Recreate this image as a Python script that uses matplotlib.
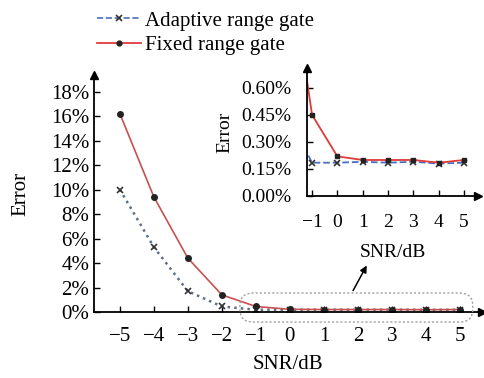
import numpy as np
import matplotlib
matplotlib.use('Agg')
import matplotlib.pyplot as plt
from matplotlib.patches import FancyBboxPatch
from matplotlib.ticker import FuncFormatter
from matplotlib.transforms import IdentityTransform

plt.rcParams['font.family'] = ['Liberation Serif', 'DejaVu Serif']
plt.rcParams['mathtext.fontset'] = 'stix'

# Data (error in %)
snr = [-5, -4, -3, -2, -1, 0, 1, 2, 3, 4, 5]
adaptive = [10.0, 5.3, 1.7, 0.45, 0.185, 0.185, 0.19, 0.185, 0.19, 0.18, 0.185]
fixed = [16.2, 9.4, 4.4, 1.4, 0.45, 0.22, 0.20, 0.20, 0.20, 0.185, 0.20]

main_yticks = [0, 2, 4, 6, 8, 10, 12, 14, 16, 18]
inset_yticks = [0.0, 0.15, 0.30, 0.45, 0.60]
inset_xticks = [-1, 0, 1, 2, 3, 4, 5]

fig = plt.figure(figsize=(4.85, 3.78), dpi=100)
ax = fig.add_axes([0.1938, 0.1746, 0.80, 0.627])

def style_axes(a, fs):
    for s in ['top', 'right']:
        a.spines[s].set_visible(False)
    a.spines['left'].set_linewidth(1.3)
    a.spines['bottom'].set_linewidth(1.3)
    a.tick_params(direction='in', length=4, width=1.0, labelsize=fs)
    a.plot(1, 0, '>k', transform=a.transAxes, clip_on=False, ms=6)
    a.plot(0, 1, '^k', transform=a.transAxes, clip_on=False, ms=6)

ax.plot(snr, adaptive, ':', color='#5d6f88', lw=1.8, marker='x', ms=4,
        mec='#333333', mew=1.2)
ax.plot(snr, fixed, '-', color='#c8504e', lw=1.2, marker='o', ms=4,
        mfc='#222222', mec='#222222')
ax.set_xlim(-5.76, 5.65)
ax.set_ylim(0, 19.35)
ax.set_xticks(snr)
ax.set_yticks(main_yticks)
ax.yaxis.set_major_formatter(FuncFormatter(lambda v, p: '%d%%' % v))
style_axes(ax, 15)
ax.tick_params(axis='x', pad=11)
ax.set_xlabel('SNR/dB', fontsize=15, labelpad=6)
ax.set_ylabel('Error', fontsize=15, labelpad=15)

# legend entries (blue dashed / red solid)
h1, = ax.plot([], [], '--', color='#4a6fc0', lw=1.2, marker='x', ms=4,
              mec='#333333', mew=1.2)
h2, = ax.plot([], [], '-', color='#e03a3a', lw=1.3, marker='o', ms=3.5,
              mfc='#222222', mec='#222222')
fig.legend([h1, h2], ['Adaptive range gate', 'Fixed range gate'],
           loc='upper left', bbox_to_anchor=(0.162, 1.02), frameon=False,
           fontsize=15, handlelength=2.1, handletextpad=0.2, labelspacing=0.22)

# zoomed-in region marker
fig.canvas.draw()
p0 = ax.transData.transform((-1.47, -0.82))
p1 = ax.transData.transform((5.38, 1.55))
box = FancyBboxPatch((p0[0], p0[1]), p1[0] - p0[0], p1[1] - p0[1],
                     boxstyle='round,pad=0,rounding_size=13',
                     transform=IdentityTransform(), fill=False,
                     ec='#a0a0a0', ls=(0, (1.5, 1.5)), lw=1.0, clip_on=False)
fig.add_artist(box)
ax.annotate('', xy=(2.3, 4.0), xytext=(1.82, 1.55),
            arrowprops=dict(arrowstyle='-|>', color='black', lw=1.1,
                            mutation_scale=10), annotation_clip=False)

# inset
ins = fig.add_axes([0.633, 0.4815, 0.3526, 0.3386])
ins.patch.set_alpha(0)
ins.plot(snr, adaptive, '--', color='#4a6fc0', lw=1.3, marker='x', ms=4,
         mec='#333333', mew=1.2)
ins.plot(snr, fixed, '-', color='#e03a3a', lw=1.3, marker='s', ms=3.5,
         mfc='#222222', mec='#222222')
ins.set_xlim(-1.2, 5.55)
ins.set_ylim(0, 0.711)
ins.set_xticks(inset_xticks)
ins.set_yticks(inset_yticks)
ins.yaxis.set_major_formatter(FuncFormatter(lambda v, p: '%.2f%%' % v))
style_axes(ins, 14)
ins.tick_params(axis='x', pad=13)
ins.tick_params(axis='y', pad=11)
ins.set_xlabel('SNR/dB', fontsize=14, labelpad=9)
ins.set_ylabel('Error', fontsize=14, labelpad=6)

fig.savefig('out.png', dpi=100)
